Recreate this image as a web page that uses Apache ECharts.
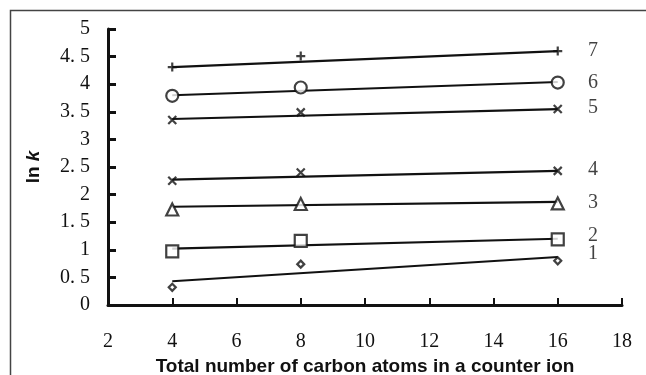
<!DOCTYPE html>
<html>
<head>
<meta charset="utf-8">
<script src="https://cdn.jsdelivr.net/npm/echarts@6/dist/echarts.min.js"></script>
<style>
html, body { margin: 0; padding: 0; background: #fff; }
#main { width: 646px; height: 375px; }
</style>
</head>
<body>
<div id="main"></div>
<script>
// carbon atoms in the counter ion
var xValues = [4, 8, 16]
// measured ln k, one list per curve (1..7)
var curve1 = [0.32, 0.74, 0.80]
var curve2 = [0.97, 1.16, 1.19]
var curve3 = [1.73, 1.83, 1.84]
var curve4 = [2.25, 2.40, 2.43]
var curve5 = [3.35, 3.49, 3.55]
var curve6 = [3.79, 3.94, 4.03]
var curve7 = [4.31, 4.51, 4.60]
// fitted line ends at x = 4 and x = 16
var fitX = [4, 16]
var fit1 = [0.43, 0.87]
var fit2 = [1.02, 1.20]
var fit3 = [1.78, 1.87]
var fit4 = [2.27, 2.43]
var fit5 = [3.37, 3.55]
var fit6 = [3.80, 4.04]
var fit7 = [4.31, 4.60]
// curve number labels at the right
var curveNames = ['1', '2', '3', '4', '5', '6', '7']
var labelX = 17.1
var labelY = [0.93, 1.25, 1.86, 2.45, 3.58, 4.02, 4.60]

var curves = [curve1, curve2, curve3, curve4, curve5, curve6, curve7]
var fits = [fit1, fit2, fit3, fit4, fit5, fit6, fit7]

var xMark = 'path://M0,0L10,10M10,0L0,10'
var plusMark = 'path://M5,0L5,10M0,5L10,5'
var symbols = ['diamond', 'rect', 'triangle', xMark, xMark, 'circle', plusMark]
var sizes = [7, 12, 12, 8, 8, 12, 9]

function pairs (xs, ys) {
    var out = []
    for (var i = 0; i < xs.length; i++) {
        out.push([xs[i], ys[i]])
    }
    return out
}

var series = []
for (var c = 0; c < curves.length; c++) {
    series.push({
        type: 'line',
        data: pairs(fitX, fits[c]),
        showSymbol: false,
        silent: true,
        lineStyle: { color: '#111', width: 2.2 },
        z: 2
    })
    var isPath = symbols[c].indexOf('path') === 0
    series.push({
        type: 'scatter',
        data: pairs(xValues, curves[c]),
        symbol: symbols[c],
        symbolSize: sizes[c],
        itemStyle: {
            color: isPath ? 'rgba(0,0,0,0)' : '#fff',
            borderColor: '#111',
            borderWidth: 2.2
        },
        z: 3
    })
}

var labelData = []
for (var k = 0; k < curveNames.length; k++) {
    labelData.push({ name: curveNames[k], value: [labelX, labelY[k]] })
}
series.push({
    type: 'scatter',
    data: labelData,
    symbolSize: 0,
    label: {
        show: true,
        position: 'inside',
        formatter: '{b}',
        color: '#111',
        fontFamily: 'Liberation Serif',
        fontSize: 20
    }
})

var myChart = echarts.init(document.getElementById('main'), null, { renderer: 'canvas' })
var option = {
    animation: false,
    backgroundColor: '#fff',
    grid: { left: 108, right: 24, top: 29, bottom: 70, containLabel: false, outerBoundsMode: 'none' },
    xAxis: {
        type: 'value',
        min: 2,
        max: 18,
        interval: 2,
        name: 'Total number of carbon atoms in a counter ion',
        nameLocation: 'middle',
        nameGap: 50,
        nameTextStyle: {
            fontFamily: 'Liberation Sans',
            fontWeight: 'bold',
            fontSize: 19,
            color: '#111'
        },
        splitLine: { show: false },
        axisLine: { lineStyle: { color: '#111', width: 3 } },
        axisTick: { inside: true, length: 7, lineStyle: { color: '#111', width: 2 } },
        axisLabel: {
            margin: 27,
            fontFamily: 'Liberation Serif',
            fontSize: 20,
            color: '#111'
        }
    },
    yAxis: {
        type: 'value',
        min: 0,
        max: 5,
        interval: 0.5,
        name: '{n|ln }{i|k}',
        nameLocation: 'middle',
        nameRotate: 90,
        nameGap: 65,
        nameTextStyle: {
            rich: {
                n: { fontFamily: 'Liberation Sans', fontWeight: 'bold', fontSize: 19, color: '#111' },
                i: { fontFamily: 'Liberation Sans', fontWeight: 'bold', fontStyle: 'italic', fontSize: 19, color: '#111' }
            }
        },
        splitLine: { show: false },
        axisLine: { lineStyle: { color: '#111', width: 3 } },
        axisTick: { inside: true, length: 8, lineStyle: { color: '#111', width: 3 } },
        axisLabel: {
            margin: 18,
            fontFamily: 'Liberation Serif',
            fontSize: 20,
            color: '#111',
            formatter: function (v) {
                return String(v).replace('.', '. ')
            }
        }
    },
    graphic: [{
        type: 'rect',
        shape: { x: 10.5, y: 10.5, width: 700, height: 500 },
        style: { fill: 'none', stroke: '#444', lineWidth: 1.5 },
        silent: true
    }],
    series: series
}
myChart.setOption(option)
window.onresize = myChart.resize
</script>
</body>
</html>
